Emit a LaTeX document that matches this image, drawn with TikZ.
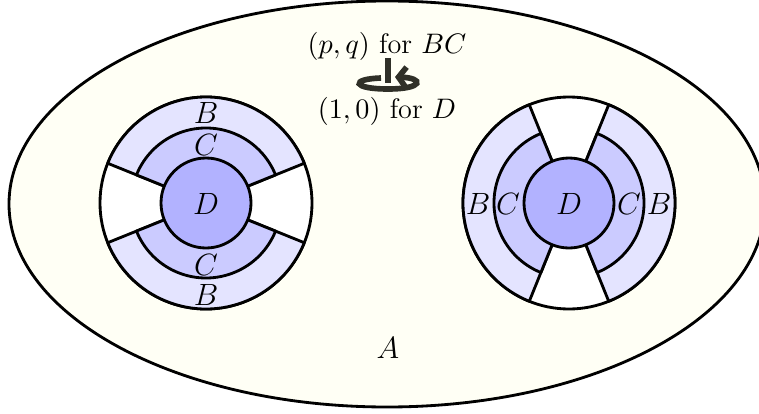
\documentclass[tikz,border=0pt]{standalone}
\usepackage{amsmath}
\usepackage{fix-cm}
\usetikzlibrary{arrows.meta}

\definecolor{bgA}{RGB}{255,255,245}
\definecolor{colB}{RGB}{228,228,255}
\definecolor{colC}{RGB}{203,203,255}
\definecolor{colD}{RGB}{178,178,255}
\definecolor{rotdark}{RGB}{48,48,40}

\tikzset{
	edge/.style={line width=1.1pt, line join=round},
	lab/.style={inner sep=0pt, font=\fontsize{12}{14}\selectfont},
	toplab/.style={inner sep=0pt, font=\fontsize{11}{13}\selectfont},
	twist/.style={rotdark, line width=2.2pt},
}

\begin{document}
\begin{tikzpicture}[x=0.0137cm, y=-0.0137cm]
		\useasboundingbox (0, 0) rectangle (759, 414);
		\clip (0, 0) rectangle (759, 414);

		\coordinate (CL) at (206, 203);
		\coordinate (CR) at (569, 203);

		\draw[edge, fill=bgA] (387, 204) ellipse [x radius=378, y radius=203];

		\foreach \c/\a in {CL/0, CR/90} {
			\filldraw[edge, fill=white] (\c) circle [radius=106];
			\foreach \s in {22, 202} {
				\filldraw[edge, fill=colB] (\c) -- +({\s+\a}:106) arc [start angle={\s+\a}, end angle={\s+\a+136}, radius=106] -- cycle;
				\filldraw[edge, fill=colC] (\c) -- +({\s+\a}:75) arc [start angle={\s+\a}, end angle={\s+\a+136}, radius=75] -- cycle;
			}
			\filldraw[edge, fill=colD] (\c) circle [radius=45];
		}

		\node[lab] (DL) at (206, 204) {$D$};
		\node[lab] (CLt) at (206, 145) {$C$};
		\node[lab] (BLt) at (206, 113) {$B$};
		\node[lab] (CLb) at (206, 265) {$C$};
		\node[lab] (BLb) at (206, 295) {$B$};

		\node[lab] (DR) at (569, 204) {$D$};
		\node[lab] (CRl) at (508, 204) {$C$};
		\node[lab] (BRl) at (478, 204) {$B$};
		\node[lab] (CRr) at (629, 204) {$C$};
		\node[lab] (BRr) at (659, 204) {$B$};

		\node[toplab] (pq) at (387, 46) {$(p,q)$ for $BC$};
		\node[toplab] (one) at (387, 111) {$(1,0)$ for $D$};
		\node[lab] (A) at (388, 348) {$A$};

		\draw[twist] (388, 58) -- (388, 83);
		\draw[twist, -{Straight Barb[length=3pt, width=8pt]}] (381, 78) .. controls (350, 79) and (352, 89) .. (388, 89) .. controls (424, 89) and (424, 78) .. (395, 77);
	\end{tikzpicture}
\end{document}
